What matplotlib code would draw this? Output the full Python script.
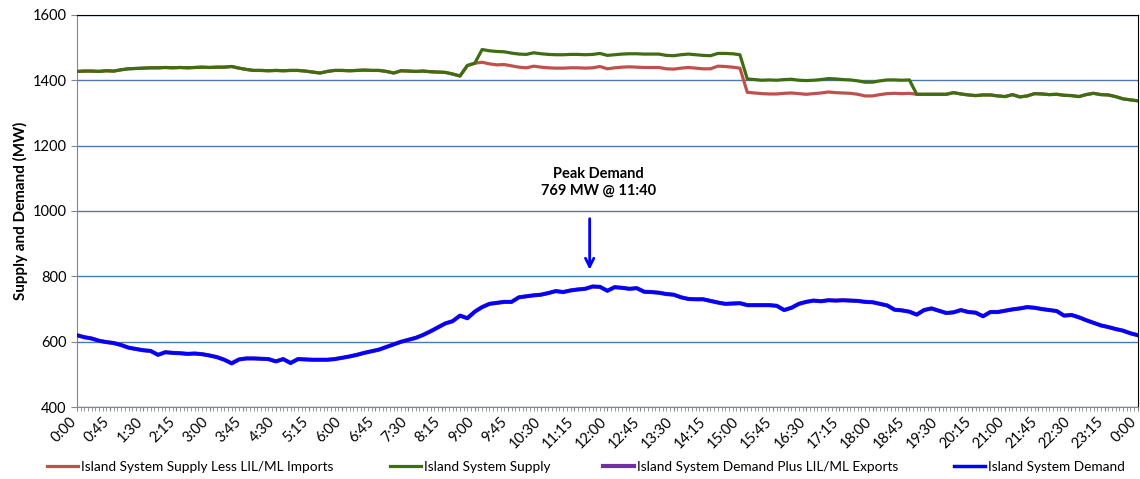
import numpy as np
import matplotlib
matplotlib.use("Agg")
import matplotlib.pyplot as plt
import matplotlib.transforms as mtransforms

plt.rcParams['font.family'] = ['Lato', 'DejaVu Sans']

# minutes since midnight, one reading every 10 minutes
minutes = np.arange(0, 1441, 10)

tick_labels = ["0:00", "0:45", "1:30", "2:15", "3:00", "3:45", "4:30", "5:15",
               "6:00", "6:45", "7:30", "8:15", "9:00", "9:45", "10:30", "11:15",
               "12:00", "12:45", "13:30", "14:15", "15:00", "15:45", "16:30",
               "17:15", "18:00", "18:45", "19:30", "20:15", "21:00", "21:45",
               "22:30", "23:15", "0:00"]

supply = [1427, 1428, 1428, 1427, 1429, 1428, 1432, 1435, 1436, 1437, 1438, 1438,
          1439, 1438, 1439, 1438, 1439, 1440, 1439, 1440, 1440, 1442, 1437, 1433,
          1430, 1430, 1429, 1430, 1429, 1430, 1430, 1428, 1425, 1422, 1427, 1430,
          1430, 1429, 1430, 1431, 1430, 1430, 1427, 1422, 1429, 1428, 1427, 1428,
          1426, 1425, 1424, 1419, 1413, 1445, 1452, 1494, 1490, 1488, 1487, 1483,
          1480, 1479, 1484, 1481, 1479, 1478, 1478, 1479, 1479, 1478, 1479, 1482,
          1476, 1478, 1480, 1481, 1481, 1480, 1480, 1480, 1476, 1475, 1478, 1480,
          1478, 1476, 1475, 1482, 1482, 1481, 1478, 1404, 1402, 1400, 1401, 1400,
          1402, 1403, 1400, 1399, 1400, 1402, 1405, 1404, 1402, 1401, 1398, 1394,
          1394, 1398, 1401, 1401, 1400, 1401, 1357, 1357, 1357, 1357, 1357, 1362,
          1358, 1355, 1353, 1355, 1355, 1352, 1350, 1356, 1349, 1352, 1359, 1358,
          1356, 1357, 1354, 1353, 1350, 1356, 1360, 1356, 1355, 1350, 1343, 1340,
          1337]

supply_less_imports = [
          1427, 1428, 1428, 1427, 1429, 1428, 1432, 1435, 1436, 1437, 1438, 1438,
          1439, 1438, 1439, 1438, 1439, 1440, 1439, 1440, 1440, 1442, 1437, 1433,
          1430, 1430, 1429, 1430, 1429, 1430, 1430, 1428, 1425, 1422, 1427, 1430,
          1430, 1429, 1430, 1431, 1430, 1430, 1427, 1422, 1429, 1428, 1427, 1428,
          1426, 1425, 1424, 1419, 1413, 1445, 1452, 1455, 1450, 1447, 1448, 1444,
          1440, 1438, 1443, 1440, 1438, 1437, 1437, 1438, 1438, 1437, 1438, 1442,
          1435, 1438, 1440, 1441, 1440, 1439, 1439, 1439, 1435, 1434, 1437, 1439,
          1437, 1435, 1435, 1443, 1442, 1440, 1437, 1363, 1361, 1359, 1358, 1358,
          1360, 1361, 1359, 1357, 1359, 1361, 1364, 1362, 1361, 1360, 1357, 1352,
          1352, 1356, 1359, 1360, 1359, 1360, 1357, 1357, 1357, 1357, 1357, 1362,
          1358, 1355, 1353, 1355, 1355, 1352, 1350, 1356, 1349, 1352, 1359, 1358,
          1356, 1357, 1354, 1353, 1350, 1356, 1360, 1356, 1355, 1350, 1343, 1340,
          1337]

demand = [620, 614, 610, 603, 599, 596, 590, 582, 578, 574, 572, 560,
          568, 566, 565, 563, 564, 562, 558, 553, 545, 534, 546, 549,
          549, 548, 547, 540, 547, 535, 547, 546, 545, 545, 545, 547,
          551, 555, 560, 566, 571, 576, 584, 592, 600, 606, 612, 621,
          632, 644, 656, 663, 680, 672, 692, 706, 716, 719, 722, 722,
          736, 739, 742, 744, 749, 755, 752, 757, 760, 762, 769, 768,
          756, 767, 765, 762, 764, 753, 752, 750, 746, 744, 736, 731,
          730, 730, 725, 720, 716, 717, 718, 712, 712, 712, 712, 710,
          697, 704, 716, 722, 726, 724, 727, 726, 727, 726, 725, 722,
          721, 716, 711, 698, 696, 692, 683, 697, 702, 695, 688, 690,
          697, 691, 689, 678, 691, 691, 695, 699, 702, 706, 704, 700,
          697, 694, 680, 682, 675, 666, 658, 650, 645, 639, 634, 626,
          620]

# no exports that day, so this series sits under the demand line
demand_plus_exports = list(demand)

peak_time = 700
peak_text = "Peak Demand\n769 MW @ 11:40"

fig = plt.figure(figsize=(11.4, 4.79), dpi=100)
ax = fig.add_axes([0.0675, 0.150, 0.9305, 0.819])

l1, = ax.plot(minutes, supply_less_imports, color='#C0504D', lw=2.3,
              label='Island System Supply Less LIL/ML Imports', zorder=3)
l2, = ax.plot(minutes, supply, color='#3F6E12', lw=2.3,
              label='Island System Supply', zorder=4)
l3, = ax.plot(minutes, demand_plus_exports, color='#7030A0', lw=3.0,
              label='Island System Demand Plus LIL/ML Exports', zorder=3)
l4, = ax.plot(minutes, demand, color='#0000FF', lw=2.5,
              label='Island System Demand', zorder=4)

ax.set_xlim(0, 1440)
ax.set_ylim(400, 1600)
ax.set_yticks(np.arange(400, 1601, 200))
ax.set_xticks(np.arange(0, 1441, 45))
ax.set_xticklabels(tick_labels, rotation=45, ha='right', va='center', rotation_mode='anchor')
ax.set_xticks(np.arange(0, 1441, 5), minor=True)
ax.tick_params(axis='x', which='both', length=3, color='#868686', labelsize=10.5, pad=6)
ax.tick_params(axis='y', length=4, color='#868686', labelsize=10.5)
# nudge the slanted labels a little left so the last one stays inside the picture
shift = mtransforms.ScaledTranslation(-3 / 100, 0, fig.dpi_scale_trans)
for lab in ax.get_xticklabels():
    lab.set_transform(lab.get_transform() + shift)

ax.grid(axis='y', color='#4A78B0', lw=1.0)
ax.set_axisbelow(True)
for s in ['left', 'bottom']:
    ax.spines[s].set_color('#868686')
for s in ['top', 'right']:
    ax.spines[s].set_color('#000000')
    ax.spines[s].set_linewidth(0.8)

ax.set_ylabel('Supply and Demand (MW)', fontsize=11, fontweight='bold', labelpad=3)

ax.annotate(peak_text, xy=(peak_time + 8, 1088), ha='center', va='center',
            fontsize=10.5, fontweight='bold')
ax.annotate('', xy=(peak_time - 4, 812), xytext=(peak_time - 4, 985),
            arrowprops=dict(arrowstyle='->', color='#0000FF', lw=2, mutation_scale=15))

# Excel spaces the legend entries unevenly, so each one is placed on its own
for line, x0 in zip([l1, l2, l3, l4], [47, 390, 603, 954]):
    fig.legend(handles=[line], loc='center left', bbox_to_anchor=(x0 / 1140, 0.025),
               frameon=False, fontsize=9.8, handlelength=2.3, handletextpad=0.2,
               borderpad=0, borderaxespad=0)

fig.savefig('out.png', dpi=100)
